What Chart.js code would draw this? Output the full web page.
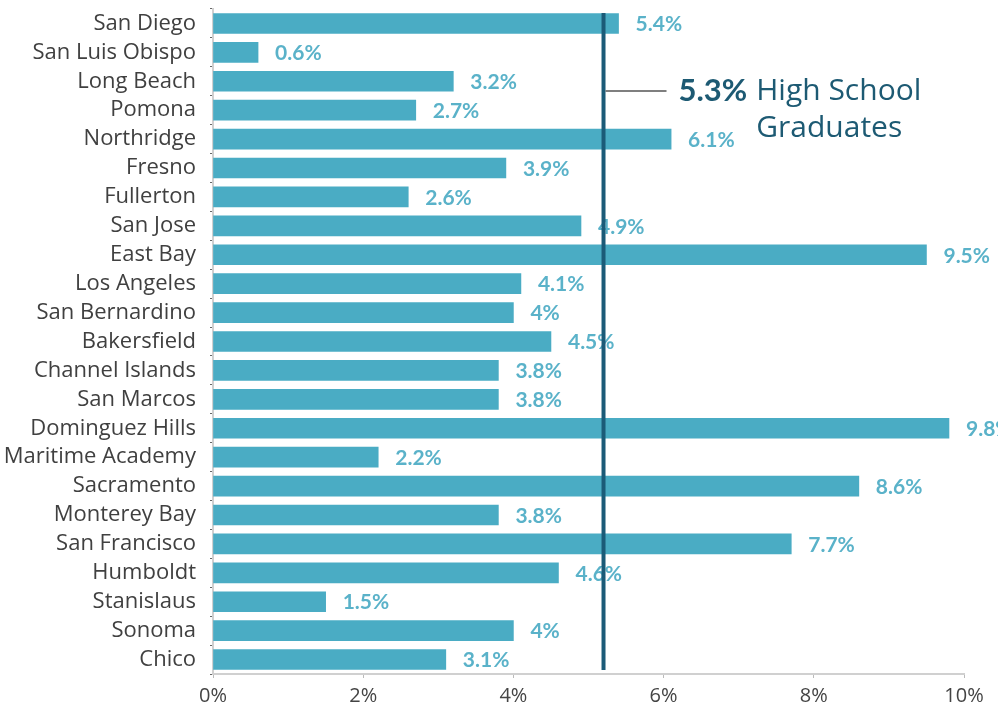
<!DOCTYPE html>
<html>
<head>
<meta charset="utf-8">
<script src="https://cdn.jsdelivr.net/npm/chart.js@4.4.1/dist/chart.umd.min.js"></script>
<style>
  html, body { margin: 0; padding: 0; background: #fff; }
  #wrap { width: 998px; height: 705px; position: relative; }
</style>
</head>
<body>
<div id="wrap"><canvas id="chart"></canvas></div>
<script>
// 校区名称与数值 (%)
const campuses = ['San Diego', 'San Luis Obispo', 'Long Beach', 'Pomona', 'Northridge', 'Fresno',
  'Fullerton', 'San Jose', 'East Bay', 'Los Angeles', 'San Bernardino', 'Bakersfield',
  'Channel Islands', 'San Marcos', 'Dominguez Hills', 'Maritime Academy', 'Sacramento',
  'Monterey Bay', 'San Francisco', 'Humboldt', 'Stanislaus', 'Sonoma', 'Chico'];
const rates = [5.4, 0.6, 3.2, 2.7, 6.1, 3.9, 2.6, 4.9, 9.5, 4.1, 4, 4.5, 3.8, 3.8, 9.8, 2.2, 8.6,
  3.8, 7.7, 4.6, 1.5, 4, 3.1];
const xTicks = [0, 2, 4, 6, 8, 10];

// 参考线 (high school graduates)
const hsLinePos = 5.2;
const hsLabelValue = '5.3%';
const hsLabelLines = ['High School', 'Graduates'];

const FONT = '"Open Sans", Lato, sans-serif';
const BOLD_FONT = 'Lato, "Open Sans", sans-serif';
const BAR_COLOR = '#4aacc4';
const LABEL_COLOR = '#5ab2c9';
const LINE_COLOR = '#1b5b78';
const NOTE_COLOR = '#1d5a73';

// 数值标签 + 参考线 + 注释
const overlayPlugin = {
  id: 'overlay',
  afterDatasetsDraw(chart) {
    const { ctx, chartArea } = chart;
    const meta = chart.getDatasetMeta(0);
    ctx.save();
    ctx.font = 'bold 21px ' + BOLD_FONT;
    ctx.fillStyle = LABEL_COLOR;
    ctx.textAlign = 'left';
    ctx.textBaseline = 'middle';
    meta.data.forEach((bar, i) => {
      ctx.fillText(rates[i] + '%', bar.x + 17, bar.y + 1);
    });

    // 竖线
    const lx = chart.scales.x.getPixelForValue(hsLinePos);
    ctx.strokeStyle = LINE_COLOR;
    ctx.lineWidth = 4;
    ctx.beginPath();
    ctx.moveTo(lx, chartArea.top + 4);
    ctx.lineTo(lx, chartArea.bottom - 4);
    ctx.stroke();

    // 引线
    const ny = 91;
    ctx.strokeStyle = '#555';
    ctx.lineWidth = 1.5;
    ctx.beginPath();
    ctx.moveTo(lx + 2, ny);
    ctx.lineTo(lx + 63, ny);
    ctx.stroke();

    // 注释文字
    const tx = lx + 75;
    ctx.fillStyle = NOTE_COLOR;
    ctx.font = 'bold 31px ' + BOLD_FONT;
    ctx.fillText(hsLabelValue, tx, ny);
    const w = ctx.measureText(hsLabelValue).width;
    ctx.font = '30px ' + FONT;
    ctx.fillText(hsLabelLines[0], tx + w + 9, ny);
    ctx.fillText(hsLabelLines[1], tx + w + 9, ny + 37);
    ctx.restore();
  }
};

new Chart(document.getElementById('chart'), {
  type: 'bar',
  data: {
    labels: campuses,
    datasets: [{
      data: rates,
      backgroundColor: BAR_COLOR,
      borderWidth: 0,
      barThickness: 20
    }]
  },
  options: {
    indexAxis: 'y',
    responsive: true,
    maintainAspectRatio: false,
    animation: false,
    layout: { padding: { top: 9, right: 34, left: 0, bottom: 0 } },
    scales: {
      x: {
        min: 0,
        max: 10,
        afterBuildTicks(scale) { scale.ticks = xTicks.map(v => ({ value: v })); },
        afterFit(scale) { scale.height = 31; },
        grid: { drawOnChartArea: false, drawTicks: true, tickLength: 4, color: '#bbb' },
        border: { display: true, color: '#d0d0d0', width: 2 },
        ticks: {
          padding: 6,
          color: '#444',
          font: { family: FONT, size: 20 },
          callback: v => v + '%'
        }
      },
      y: {
        afterFit(scale) {
          scale.width = 213;
          scale.paddingTop = 0;
          scale.paddingBottom = 0;
        },
        grid: { drawOnChartArea: false, drawTicks: true, tickLength: 3, color: '#666' },
        border: { display: true, color: '#d0d0d0', width: 2 },
        ticks: {
          padding: 14,
          color: '#404040',
          autoSkip: false,
          font: { family: FONT, size: 22 }
        }
      }
    },
    plugins: {
      legend: { display: false },
      tooltip: { enabled: false }
    }
  },
  plugins: [overlayPlugin]
});
</script>
</body>
</html>
